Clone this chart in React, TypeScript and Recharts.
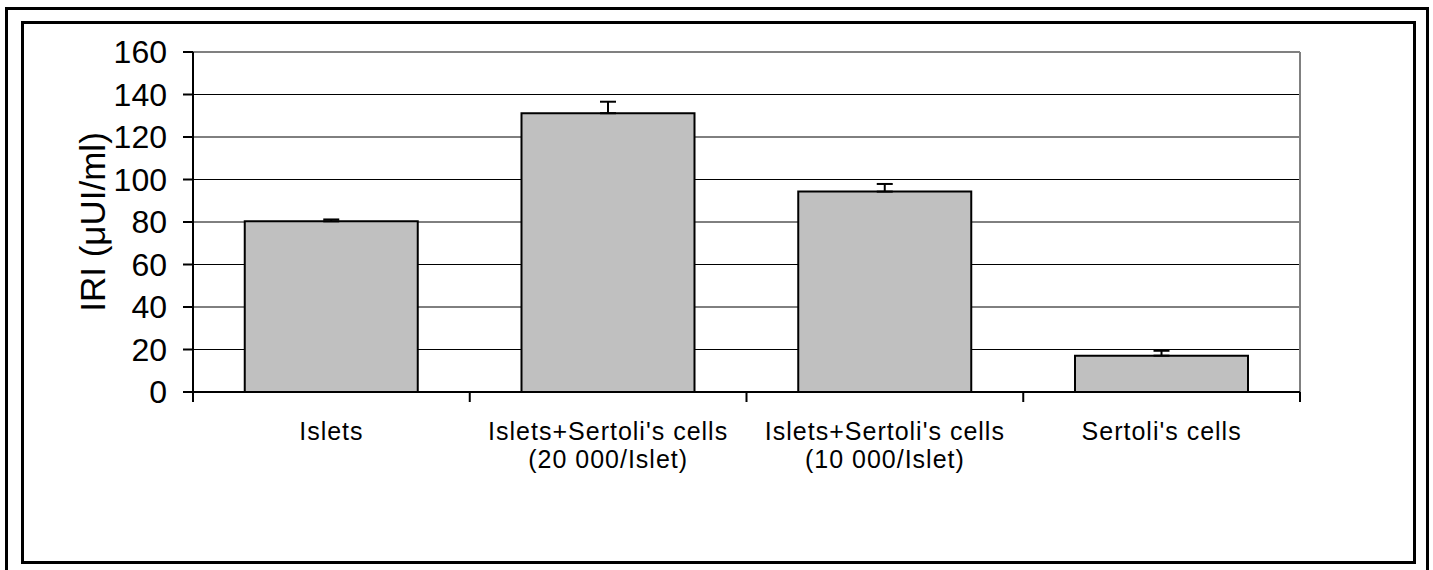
import React from "react";
import {
  BarChart,
  Bar,
  XAxis,
  YAxis,
  CartesianGrid,
  ErrorBar,
  ReferenceLine,
} from "recharts";

const categories = [
  "Islets",
  "Islets+Sertoli's cells\n(20 000/Islet)",
  "Islets+Sertoli's cells\n(10 000/Islet)",
  "Sertoli's cells",
];
const means = [80.3, 131.2, 94.3, 17.1];
const errors = [0.9, 5.4, 3.6, 2.3];
const yTicks = [0, 20, 40, 60, 80, 100, 120, 140, 160];

const data = categories.map((name, i) => ({
  name,
  iri: means[i],
  err: [0, errors[i]],
}));

const FONT = "'Liberation Sans', Arial, sans-serif";

// category label + tick marks at the category boundaries (Excel style)
const CategoryTick = (props: any) => {
  const { x, y, payload, width, visibleTicksCount, index } = props;
  const lines = String(payload.value).split("\n");
  const half = width && visibleTicksCount ? width / visibleTicksCount / 2 : 0;
  return (
    <g transform={`translate(${x},${y})`}>
      {half > 0 && <line x1={-half} x2={-half} y1={0} y2={10} stroke="#000" strokeWidth={2} />}
      {half > 0 && index === visibleTicksCount - 1 && (
        <line x1={half} x2={half} y1={0} y2={10} stroke="#000" strokeWidth={2} />
      )}
      {lines.map((ln: string, i: number) => (
        <text
          key={i}
          x={0}
          y={48 + i * 28}
          textAnchor="middle"
          fontFamily={FONT}
          fontSize={25}
          letterSpacing={1}
          fill="#000"
        >
          {ln}
        </text>
      ))}
    </g>
  );
};

const YLabel = (props: any) => {
  const { x, y, width, height } = props.viewBox;
  const cx = x + width / 2 - 4;
  const cy = y + height / 2;
  return (
    <text
      x={cx}
      y={cy}
      transform={`rotate(-90 ${cx} ${cy})`}
      textAnchor="middle"
      dominantBaseline="central"
      fontFamily={FONT}
      fontSize={35}
      fill="#000"
    >
      IRI (μUI/ml)
    </text>
  );
};

const rightEdge = ({ offset }: any) => [offset.left + offset.width];

export default function App() {
  return (
    <div style={{ position: "absolute", left: 0, top: 0, width: 1433, height: 570, background: "#fff" }}>
      <div
        style={{
          position: "absolute",
          left: 5,
          top: 7,
          width: 1424,
          height: 563,
          boxSizing: "border-box",
          border: "3px solid #000",
          borderBottom: "none",
        }}
      />
      <div
        style={{
          position: "absolute",
          left: 21,
          top: 21,
          width: 1395,
          height: 543,
          boxSizing: "border-box",
          border: "3px solid #000",
        }}
      />
      <div style={{ position: "absolute", left: 0, top: 0 }}>
        <BarChart
          width={1433}
          height={570}
          data={data}
          margin={{ top: 52, right: 133, bottom: 98, left: 0 }}
          barCategoryGap="18.7%"
        >
          <CartesianGrid vertical={false} stroke="#000" strokeWidth={1} />
          <CartesianGrid
            horizontal={false}
            verticalCoordinatesGenerator={rightEdge}
            stroke="#808080"
            strokeWidth={2}
          />
          <XAxis
            dataKey="name"
            height={80}
            tickLine={false}
            tickSize={0}
            tickMargin={0}
            interval={0}
            axisLine={{ stroke: "#000", strokeWidth: 2 }}
            tick={<CategoryTick />}
          />
          <YAxis
            width={193}
            domain={[0, 160]}
            ticks={yTicks}
            interval={0}
            tickSize={10}
            tickMargin={16}
            axisLine={{ stroke: "#000", strokeWidth: 2 }}
            tickLine={{ stroke: "#000", strokeWidth: 2 }}
            tick={{ fill: "#000", fontSize: 32, fontFamily: FONT }}
            label={<YLabel />}
          />
          <ReferenceLine y={160} stroke="#808080" strokeWidth={2} />
          <Bar
            dataKey="iri"
            fill="#C0C0C0"
            stroke="#000"
            strokeWidth={2}
            isAnimationActive={false}
          >
            <ErrorBar dataKey="err" direction="y" width={8} stroke="#000" strokeWidth={2} />
          </Bar>
        </BarChart>
      </div>
    </div>
  );
}
